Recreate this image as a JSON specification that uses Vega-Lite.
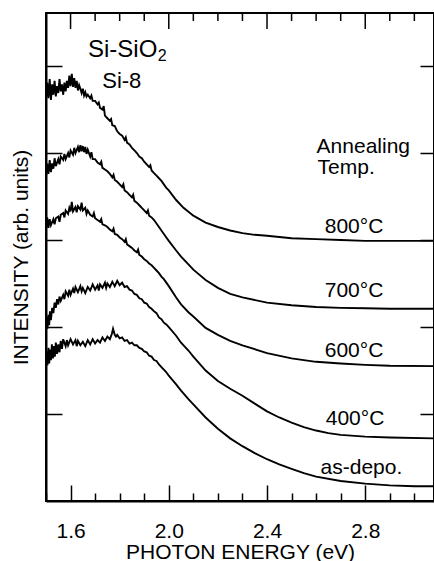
{
  "$schema": "https://vega.github.io/schema/vega-lite/v6.json",
  "width": 388,
  "height": 488,
  "autosize": "none",
  "padding": {"left": 46, "top": 13, "right": 0, "bottom": 60},
  "background": "white",
  "config": {"view": {"stroke": "black", "strokeWidth": 2}, "font": "Liberation Sans"},
  "datasets": {
    "majorTicks": [{"e": 1.6}, {"e": 2.0}, {"e": 2.4}, {"e": 2.8}],
    "minorTicks": [{"e": 1.5}, {"e": 1.7}, {"e": 1.8}, {"e": 1.9}, {"e": 2.1}, {"e": 2.2}, {"e": 2.3}, {"e": 2.5}, {"e": 2.6}, {"e": 2.7}, {"e": 2.9}, {"e": 3.0}],
    "frameTop": [{"e": 1.5, "i": 5.61}, {"e": 3.08, "i": 5.61}],
    "curves": [
        {"s":"800","e":1.500,"i":4.61},{"s":"800","e":1.505,"i":4.81},{"s":"800","e":1.510,"i":4.63},{"s":"800","e":1.515,"i":4.85},{"s":"800","e":1.520,"i":4.61},{"s":"800","e":1.525,"i":4.79},{"s":"800","e":1.530,"i":4.67},{"s":"800","e":1.535,"i":4.83},{"s":"800","e":1.540,"i":4.65},{"s":"800","e":1.545,"i":4.77},{"s":"800","e":1.550,"i":4.69},{"s":"800","e":1.555,"i":4.85},{"s":"800","e":1.560,"i":4.71},{"s":"800","e":1.565,"i":4.79},{"s":"800","e":1.570,"i":4.67},{"s":"800","e":1.575,"i":4.81},{"s":"800","e":1.580,"i":4.71},{"s":"800","e":1.585,"i":4.83},{"s":"800","e":1.590,"i":4.75},{"s":"800","e":1.595,"i":4.89},{"s":"800","e":1.600,"i":4.77},{"s":"800","e":1.605,"i":4.91},{"s":"800","e":1.610,"i":4.76},{"s":"800","e":1.615,"i":4.86},{"s":"800","e":1.620,"i":4.75},{"s":"800","e":1.625,"i":4.83},{"s":"800","e":1.630,"i":4.72},{"s":"800","e":1.635,"i":4.78},{"s":"800","e":1.640,"i":4.74},{"s":"800","e":1.645,"i":4.69},{"s":"800","e":1.650,"i":4.74},{"s":"800","e":1.655,"i":4.66},{"s":"800","e":1.660,"i":4.70},{"s":"800","e":1.665,"i":4.65},{"s":"800","e":1.670,"i":4.67},{"s":"800","e":1.680,"i":4.63},{"s":"800","e":1.685,"i":4.66},{"s":"800","e":1.690,"i":4.60},{"s":"800","e":1.700,"i":4.60},{"s":"800","e":1.710,"i":4.56},{"s":"800","e":1.715,"i":4.58},{"s":"800","e":1.720,"i":4.52},{"s":"800","e":1.730,"i":4.50},{"s":"800","e":1.735,"i":4.54},{"s":"800","e":1.740,"i":4.43},{"s":"800","e":1.750,"i":4.40},{"s":"800","e":1.760,"i":4.37},{"s":"800","e":1.765,"i":4.39},{"s":"800","e":1.770,"i":4.32},{"s":"800","e":1.780,"i":4.31},{"s":"800","e":1.790,"i":4.25},{"s":"800","e":1.800,"i":4.22},{"s":"800","e":1.810,"i":4.20},{"s":"800","e":1.820,"i":4.15},{"s":"800","e":1.825,"i":4.18},{"s":"800","e":1.830,"i":4.12},{"s":"800","e":1.840,"i":4.10},{"s":"800","e":1.850,"i":4.06},{"s":"800","e":1.860,"i":4.03},{"s":"800","e":1.870,"i":4.00},{"s":"800","e":1.880,"i":3.96},{"s":"800","e":1.890,"i":3.94},{"s":"800","e":1.900,"i":3.90},{"s":"800","e":1.910,"i":3.87},{"s":"800","e":1.920,"i":3.84},{"s":"800","e":1.925,"i":3.86},{"s":"800","e":1.930,"i":3.80},{"s":"800","e":1.940,"i":3.77},{"s":"800","e":1.950,"i":3.74},{"s":"800","e":1.960,"i":3.71},{"s":"800","e":1.970,"i":3.68},{"s":"800","e":1.980,"i":3.64},{"s":"800","e":1.990,"i":3.60},{"s":"800","e":2.000,"i":3.57},{"s":"800","e":2.03,"i":3.46},{"s":"800","e":2.06,"i":3.37},{"s":"800","e":2.10,"i":3.28},{"s":"800","e":2.15,"i":3.20},{"s":"800","e":2.20,"i":3.15},{"s":"800","e":2.25,"i":3.11},{"s":"800","e":2.30,"i":3.08},{"s":"800","e":2.35,"i":3.06},{"s":"800","e":2.40,"i":3.05},{"s":"800","e":2.50,"i":3.02},{"s":"800","e":2.60,"i":3.01},{"s":"800","e":2.70,"i":3.00},{"s":"800","e":2.80,"i":2.99},{"s":"800","e":2.90,"i":2.99},{"s":"800","e":3.00,"i":2.99},{"s":"800","e":3.08,"i":2.99},

        {"s":"700","e":1.500,"i":3.72},{"s":"700","e":1.505,"i":3.88},{"s":"700","e":1.510,"i":3.76},{"s":"700","e":1.515,"i":3.92},{"s":"700","e":1.520,"i":3.78},{"s":"700","e":1.525,"i":3.88},{"s":"700","e":1.530,"i":3.82},{"s":"700","e":1.535,"i":3.94},{"s":"700","e":1.540,"i":3.85},{"s":"700","e":1.550,"i":3.93},{"s":"700","e":1.555,"i":3.87},{"s":"700","e":1.560,"i":3.96},{"s":"700","e":1.570,"i":3.92},{"s":"700","e":1.575,"i":3.99},{"s":"700","e":1.580,"i":3.93},{"s":"700","e":1.590,"i":4.00},{"s":"700","e":1.595,"i":3.95},{"s":"700","e":1.600,"i":4.03},{"s":"700","e":1.610,"i":3.98},{"s":"700","e":1.615,"i":4.06},{"s":"700","e":1.620,"i":4.00},{"s":"700","e":1.630,"i":4.07},{"s":"700","e":1.635,"i":4.01},{"s":"700","e":1.640,"i":4.09},{"s":"700","e":1.645,"i":4.02},{"s":"700","e":1.650,"i":4.08},{"s":"700","e":1.655,"i":4.01},{"s":"700","e":1.660,"i":4.07},{"s":"700","e":1.665,"i":3.99},{"s":"700","e":1.670,"i":4.04},{"s":"700","e":1.680,"i":3.96},{"s":"700","e":1.685,"i":4.01},{"s":"700","e":1.690,"i":3.93},{"s":"700","e":1.700,"i":3.93},{"s":"700","e":1.710,"i":3.89},{"s":"700","e":1.720,"i":3.87},{"s":"700","e":1.725,"i":3.90},{"s":"700","e":1.730,"i":3.83},{"s":"700","e":1.740,"i":3.81},{"s":"700","e":1.750,"i":3.79},{"s":"700","e":1.760,"i":3.76},{"s":"700","e":1.770,"i":3.72},{"s":"700","e":1.775,"i":3.75},{"s":"700","e":1.780,"i":3.69},{"s":"700","e":1.790,"i":3.67},{"s":"700","e":1.800,"i":3.64},{"s":"700","e":1.810,"i":3.61},{"s":"700","e":1.815,"i":3.64},{"s":"700","e":1.820,"i":3.57},{"s":"700","e":1.830,"i":3.55},{"s":"700","e":1.840,"i":3.52},{"s":"700","e":1.850,"i":3.49},{"s":"700","e":1.855,"i":3.52},{"s":"700","e":1.860,"i":3.45},{"s":"700","e":1.870,"i":3.43},{"s":"700","e":1.880,"i":3.40},{"s":"700","e":1.890,"i":3.37},{"s":"700","e":1.900,"i":3.34},{"s":"700","e":1.910,"i":3.31},{"s":"700","e":1.915,"i":3.34},{"s":"700","e":1.920,"i":3.28},{"s":"700","e":1.930,"i":3.26},{"s":"700","e":1.940,"i":3.23},{"s":"700","e":1.950,"i":3.19},{"s":"700","e":1.960,"i":3.15},{"s":"700","e":1.970,"i":3.11},{"s":"700","e":1.980,"i":3.07},{"s":"700","e":1.990,"i":3.03},{"s":"700","e":2.000,"i":2.99},{"s":"700","e":2.03,"i":2.88},{"s":"700","e":2.05,"i":2.81},{"s":"700","e":2.08,"i":2.72},{"s":"700","e":2.10,"i":2.66},{"s":"700","e":2.15,"i":2.54},{"s":"700","e":2.20,"i":2.45},{"s":"700","e":2.25,"i":2.38},{"s":"700","e":2.30,"i":2.34},{"s":"700","e":2.40,"i":2.28},{"s":"700","e":2.50,"i":2.25},{"s":"700","e":2.60,"i":2.23},{"s":"700","e":2.70,"i":2.22},{"s":"700","e":2.80,"i":2.215},{"s":"700","e":2.90,"i":2.21},{"s":"700","e":3.08,"i":2.21},

        {"s":"600","e":1.500,"i":3.12},{"s":"600","e":1.505,"i":3.26},{"s":"600","e":1.510,"i":3.14},{"s":"600","e":1.515,"i":3.24},{"s":"600","e":1.520,"i":3.17},{"s":"600","e":1.530,"i":3.24},{"s":"600","e":1.535,"i":3.18},{"s":"600","e":1.540,"i":3.25},{"s":"600","e":1.550,"i":3.27},{"s":"600","e":1.555,"i":3.21},{"s":"600","e":1.560,"i":3.29},{"s":"600","e":1.570,"i":3.31},{"s":"600","e":1.575,"i":3.26},{"s":"600","e":1.580,"i":3.34},{"s":"600","e":1.590,"i":3.30},{"s":"600","e":1.595,"i":3.37},{"s":"600","e":1.600,"i":3.33},{"s":"600","e":1.605,"i":3.44},{"s":"600","e":1.610,"i":3.33},{"s":"600","e":1.620,"i":3.38},{"s":"600","e":1.625,"i":3.32},{"s":"600","e":1.630,"i":3.39},{"s":"600","e":1.640,"i":3.35},{"s":"600","e":1.645,"i":3.43},{"s":"600","e":1.650,"i":3.34},{"s":"600","e":1.660,"i":3.37},{"s":"600","e":1.665,"i":3.30},{"s":"600","e":1.670,"i":3.34},{"s":"600","e":1.680,"i":3.29},{"s":"600","e":1.690,"i":3.27},{"s":"600","e":1.695,"i":3.31},{"s":"600","e":1.700,"i":3.25},{"s":"600","e":1.710,"i":3.23},{"s":"600","e":1.720,"i":3.21},{"s":"600","e":1.725,"i":3.24},{"s":"600","e":1.730,"i":3.18},{"s":"600","e":1.740,"i":3.17},{"s":"600","e":1.750,"i":3.15},{"s":"600","e":1.760,"i":3.12},{"s":"600","e":1.770,"i":3.10},{"s":"600","e":1.775,"i":3.13},{"s":"600","e":1.780,"i":3.07},{"s":"600","e":1.790,"i":3.06},{"s":"600","e":1.800,"i":3.03},{"s":"600","e":1.810,"i":3.01},{"s":"600","e":1.820,"i":2.98},{"s":"600","e":1.825,"i":3.01},{"s":"600","e":1.830,"i":2.95},{"s":"600","e":1.840,"i":2.93},{"s":"600","e":1.850,"i":2.91},{"s":"600","e":1.860,"i":2.88},{"s":"600","e":1.870,"i":2.86},{"s":"600","e":1.875,"i":2.89},{"s":"600","e":1.880,"i":2.83},{"s":"600","e":1.890,"i":2.81},{"s":"600","e":1.900,"i":2.78},{"s":"600","e":1.910,"i":2.76},{"s":"600","e":1.920,"i":2.73},{"s":"600","e":1.930,"i":2.71},{"s":"600","e":1.940,"i":2.68},{"s":"600","e":1.950,"i":2.65},{"s":"600","e":1.960,"i":2.62},{"s":"600","e":1.970,"i":2.58},{"s":"600","e":1.980,"i":2.55},{"s":"600","e":1.990,"i":2.51},{"s":"600","e":2.000,"i":2.47},{"s":"600","e":2.03,"i":2.34},{"s":"600","e":2.05,"i":2.26},{"s":"600","e":2.08,"i":2.17},{"s":"600","e":2.10,"i":2.12},{"s":"600","e":2.15,"i":1.99},{"s":"600","e":2.20,"i":1.91},{"s":"600","e":2.25,"i":1.84},{"s":"600","e":2.30,"i":1.79},{"s":"600","e":2.40,"i":1.70},{"s":"600","e":2.50,"i":1.64},{"s":"600","e":2.60,"i":1.60},{"s":"600","e":2.70,"i":1.58},{"s":"600","e":2.80,"i":1.565},{"s":"600","e":2.90,"i":1.555},{"s":"600","e":3.08,"i":1.55},

        {"s":"400","e":1.500,"i":1.94},{"s":"400","e":1.503,"i":2.12},{"s":"400","e":1.506,"i":1.98},{"s":"400","e":1.510,"i":2.14},{"s":"400","e":1.513,"i":2.02},{"s":"400","e":1.516,"i":2.18},{"s":"400","e":1.520,"i":2.08},{"s":"400","e":1.525,"i":2.22},{"s":"400","e":1.530,"i":2.16},{"s":"400","e":1.535,"i":2.28},{"s":"400","e":1.540,"i":2.22},{"s":"400","e":1.545,"i":2.32},{"s":"400","e":1.550,"i":2.26},{"s":"400","e":1.555,"i":2.35},{"s":"400","e":1.560,"i":2.30},{"s":"400","e":1.570,"i":2.37},{"s":"400","e":1.575,"i":2.32},{"s":"400","e":1.580,"i":2.41},{"s":"400","e":1.590,"i":2.36},{"s":"400","e":1.595,"i":2.43},{"s":"400","e":1.600,"i":2.37},{"s":"400","e":1.610,"i":2.44},{"s":"400","e":1.615,"i":2.39},{"s":"400","e":1.620,"i":2.46},{"s":"400","e":1.630,"i":2.40},{"s":"400","e":1.640,"i":2.47},{"s":"400","e":1.645,"i":2.41},{"s":"400","e":1.650,"i":2.45},{"s":"400","e":1.660,"i":2.39},{"s":"400","e":1.670,"i":2.46},{"s":"400","e":1.680,"i":2.42},{"s":"400","e":1.690,"i":2.49},{"s":"400","e":1.700,"i":2.43},{"s":"400","e":1.710,"i":2.48},{"s":"400","e":1.715,"i":2.42},{"s":"400","e":1.720,"i":2.49},{"s":"400","e":1.730,"i":2.45},{"s":"400","e":1.740,"i":2.51},{"s":"400","e":1.745,"i":2.45},{"s":"400","e":1.750,"i":2.50},{"s":"400","e":1.760,"i":2.46},{"s":"400","e":1.770,"i":2.52},{"s":"400","e":1.780,"i":2.47},{"s":"400","e":1.790,"i":2.53},{"s":"400","e":1.800,"i":2.48},{"s":"400","e":1.810,"i":2.51},{"s":"400","e":1.820,"i":2.46},{"s":"400","e":1.830,"i":2.47},{"s":"400","e":1.840,"i":2.43},{"s":"400","e":1.850,"i":2.42},{"s":"400","e":1.860,"i":2.38},{"s":"400","e":1.870,"i":2.37},{"s":"400","e":1.880,"i":2.33},{"s":"400","e":1.890,"i":2.32},{"s":"400","e":1.900,"i":2.28},{"s":"400","e":1.910,"i":2.27},{"s":"400","e":1.920,"i":2.23},{"s":"400","e":1.930,"i":2.21},{"s":"400","e":1.940,"i":2.18},{"s":"400","e":1.950,"i":2.16},{"s":"400","e":1.960,"i":2.11},{"s":"400","e":1.970,"i":2.09},{"s":"400","e":1.980,"i":2.05},{"s":"400","e":1.990,"i":2.03},{"s":"400","e":2.000,"i":2.00},{"s":"400","e":2.03,"i":1.90},{"s":"400","e":2.05,"i":1.82},{"s":"400","e":2.08,"i":1.73},{"s":"400","e":2.10,"i":1.66},{"s":"400","e":2.15,"i":1.50},{"s":"400","e":2.20,"i":1.38},{"s":"400","e":2.25,"i":1.29},{"s":"400","e":2.30,"i":1.21},{"s":"400","e":2.35,"i":1.12},{"s":"400","e":2.40,"i":1.03},{"s":"400","e":2.45,"i":0.96},{"s":"400","e":2.50,"i":0.90},{"s":"400","e":2.55,"i":0.85},{"s":"400","e":2.60,"i":0.81},{"s":"400","e":2.65,"i":0.78},{"s":"400","e":2.70,"i":0.76},{"s":"400","e":2.80,"i":0.74},{"s":"400","e":2.90,"i":0.73},{"s":"400","e":3.08,"i":0.72},

        {"s":"as","e":1.500,"i":1.53},{"s":"as","e":1.503,"i":1.72},{"s":"as","e":1.506,"i":1.56},{"s":"as","e":1.510,"i":1.76},{"s":"as","e":1.513,"i":1.58},{"s":"as","e":1.516,"i":1.74},{"s":"as","e":1.520,"i":1.62},{"s":"as","e":1.524,"i":1.80},{"s":"as","e":1.528,"i":1.64},{"s":"as","e":1.532,"i":1.78},{"s":"as","e":1.536,"i":1.66},{"s":"as","e":1.540,"i":1.82},{"s":"as","e":1.545,"i":1.69},{"s":"as","e":1.550,"i":1.80},{"s":"as","e":1.555,"i":1.71},{"s":"as","e":1.560,"i":1.84},{"s":"as","e":1.565,"i":1.75},{"s":"as","e":1.570,"i":1.86},{"s":"as","e":1.580,"i":1.78},{"s":"as","e":1.585,"i":1.85},{"s":"as","e":1.590,"i":1.79},{"s":"as","e":1.600,"i":1.86},{"s":"as","e":1.610,"i":1.80},{"s":"as","e":1.620,"i":1.85},{"s":"as","e":1.625,"i":1.78},{"s":"as","e":1.630,"i":1.84},{"s":"as","e":1.640,"i":1.79},{"s":"as","e":1.650,"i":1.83},{"s":"as","e":1.660,"i":1.78},{"s":"as","e":1.670,"i":1.85},{"s":"as","e":1.680,"i":1.80},{"s":"as","e":1.690,"i":1.86},{"s":"as","e":1.700,"i":1.81},{"s":"as","e":1.710,"i":1.85},{"s":"as","e":1.720,"i":1.82},{"s":"as","e":1.730,"i":1.88},{"s":"as","e":1.740,"i":1.84},{"s":"as","e":1.750,"i":1.89},{"s":"as","e":1.760,"i":1.86},{"s":"as","e":1.768,"i":1.92},{"s":"as","e":1.773,"i":1.98},{"s":"as","e":1.780,"i":1.91},{"s":"as","e":1.785,"i":1.89},{"s":"as","e":1.790,"i":1.91},{"s":"as","e":1.800,"i":1.87},{"s":"as","e":1.810,"i":1.88},{"s":"as","e":1.820,"i":1.84},{"s":"as","e":1.830,"i":1.85},{"s":"as","e":1.840,"i":1.81},{"s":"as","e":1.850,"i":1.82},{"s":"as","e":1.860,"i":1.79},{"s":"as","e":1.870,"i":1.79},{"s":"as","e":1.880,"i":1.76},{"s":"as","e":1.890,"i":1.75},{"s":"as","e":1.900,"i":1.72},{"s":"as","e":1.910,"i":1.71},{"s":"as","e":1.920,"i":1.67},{"s":"as","e":1.930,"i":1.66},{"s":"as","e":1.940,"i":1.62},{"s":"as","e":1.950,"i":1.61},{"s":"as","e":1.960,"i":1.57},{"s":"as","e":1.970,"i":1.54},{"s":"as","e":1.980,"i":1.51},{"s":"as","e":1.990,"i":1.48},{"s":"as","e":2.000,"i":1.44},{"s":"as","e":2.03,"i":1.34},{"s":"as","e":2.05,"i":1.27},{"s":"as","e":2.08,"i":1.17},{"s":"as","e":2.10,"i":1.11},{"s":"as","e":2.15,"i":0.96},{"s":"as","e":2.20,"i":0.83},{"s":"as","e":2.25,"i":0.72},{"s":"as","e":2.30,"i":0.63},{"s":"as","e":2.35,"i":0.55},{"s":"as","e":2.40,"i":0.48},{"s":"as","e":2.45,"i":0.42},{"s":"as","e":2.50,"i":0.37},{"s":"as","e":2.55,"i":0.32},{"s":"as","e":2.60,"i":0.28},{"s":"as","e":2.70,"i":0.23},{"s":"as","e":2.80,"i":0.20},{"s":"as","e":2.90,"i":0.18},{"s":"as","e":3.00,"i":0.17},{"s":"as","e":3.08,"i":0.17}
    ]
  },
  "resolve": {"axis": {"x": "independent", "y": "independent"}},
  "layer": [
    {
      "data": {"name": "curves"},
      "mark": {"type": "line", "color": "black", "strokeWidth": 1.9, "clip": true},
      "encoding": {
        "x": {"field": "e", "type": "quantitative", "scale": {"domain": [1.5, 3.08], "nice": false, "zero": false},
          "axis": {"orient": "bottom", "values": [1.5,1.6,1.7,1.8,1.9,2.0,2.1,2.2,2.3,2.4,2.5,2.6,2.7,2.8,2.9,3.0],
            "labelExpr": "round(datum.value*10)%4==0 ? format(datum.value, '.1f') : ''",
            "tickSize": {"condition": {"test": "round(datum.value*10)%4==0", "value": -16}, "value": -8},
            "tickWidth": 1.5, "tickColor": "black", "domainColor": "black", "domainWidth": 2,
            "labelFontSize": 21, "labelColor": "black", "labelFont": "Liberation Sans", "labelPadding": 35, "labelOverlap": false, "labelFlush": false,
            "grid": false, "title": "PHOTON ENERGY (eV)", "titleFontSize": 21, "titleFontWeight": "normal", "titleFont": "Liberation Sans", "titleColor": "black", "titleBaseline": "alphabetic", "titlePadding": 9}},
        "y": {"field": "i", "type": "quantitative", "scale": {"domain": [0, 5.61], "nice": false, "zero": false},
          "axis": {"orient": "left", "values": [1,2,3,4,5], "labels": false, "tickSize": -16, "tickWidth": 1.5, "tickColor": "black",
            "domainColor": "black", "domainWidth": 2, "grid": false,
            "title": "INTENSITY (arb. units)", "titleFontSize": 21, "titleFontWeight": "normal", "titleFont": "Liberation Sans", "titleColor": "black", "titleBaseline": "alphabetic", "titlePadding": 18}},
        "detail": {"field": "s", "type": "nominal"}
      }
    },
    {
      "data": {"name": "curves"},
      "mark": {"type": "line", "strokeOpacity": 0, "clip": true},
      "encoding": {
        "x": {"field": "e", "type": "quantitative", "axis": null},
        "y": {"field": "i", "type": "quantitative", "scale": {"domain": [0, 5.61], "nice": false, "zero": false},
          "axis": {"orient": "right", "values": [1,2,3,4,5], "labels": false, "tickSize": -14, "tickWidth": 1.5, "tickColor": "black",
            "domain": false, "grid": false, "title": ""}},
        "detail": {"field": "s", "type": "nominal"}
      }
    },
    {
      "data": {"name": "frameTop"},
      "mark": {"type": "line", "color": "black", "strokeWidth": 2, "clip": false},
      "encoding": {
        "x": {"field": "e", "type": "quantitative", "axis": null},
        "y": {"field": "i", "type": "quantitative", "axis": null}
      }
    },
    {
      "data": {"name": "majorTicks"},
      "mark": {"type": "tick", "orient": "vertical", "size": 16, "thickness": 1.5, "yOffset": 8, "color": "black", "opacity": 1},
      "encoding": {
        "x": {"field": "e", "type": "quantitative", "axis": null},
        "y": {"datum": 5.61, "type": "quantitative", "axis": null}
      }
    },
    {
      "data": {"name": "minorTicks"},
      "mark": {"type": "tick", "orient": "vertical", "size": 8, "thickness": 1.5, "yOffset": 4, "color": "black", "opacity": 1},
      "encoding": {
        "x": {"field": "e", "type": "quantitative", "axis": null},
        "y": {"datum": 5.61, "type": "quantitative", "axis": null}
      }
    },
    {
      "data": {"values": [
        {"t": "Annealing", "e": 2.602, "i": 4.0},
        {"t": "Temp.", "e": 2.606, "i": 3.76},
        {"t": "800°C", "e": 2.635, "i": 3.08},
        {"t": "700°C", "e": 2.635, "i": 2.345},
        {"t": "600°C", "e": 2.635, "i": 1.655},
        {"t": "400°C", "e": 2.639, "i": 0.874},
        {"t": "as-depo.", "e": 2.618, "i": 0.31}
      ]},
      "mark": {"type": "text", "align": "left", "baseline": "alphabetic", "fontSize": 21, "font": "Liberation Sans", "color": "black"},
      "encoding": {
        "x": {"field": "e", "type": "quantitative", "axis": null},
        "y": {"field": "i", "type": "quantitative", "axis": null},
        "text": {"field": "t"}
      }
    },
    {
      "data": {"values": [{"t": "Si-SiO", "e": 1.671, "i": 5.10}]},
      "mark": {"type": "text", "align": "left", "baseline": "alphabetic", "fontSize": 24, "font": "Liberation Sans", "color": "black"},
      "encoding": {
        "x": {"field": "e", "type": "quantitative", "axis": null},
        "y": {"field": "i", "type": "quantitative", "axis": null},
        "text": {"field": "t"}
      }
    },
    {
      "data": {"values": [{"t": "2", "e": 1.955, "i": 5.06}]},
      "mark": {"type": "text", "align": "left", "baseline": "alphabetic", "fontSize": 16, "font": "Liberation Sans", "color": "black"},
      "encoding": {
        "x": {"field": "e", "type": "quantitative", "axis": null},
        "y": {"field": "i", "type": "quantitative", "axis": null},
        "text": {"field": "t"}
      }
    },
    {
      "data": {"values": [{"t": "Si-8", "e": 1.729, "i": 4.75}]},
      "mark": {"type": "text", "align": "left", "baseline": "alphabetic", "fontSize": 22, "font": "Liberation Sans", "color": "black"},
      "encoding": {
        "x": {"field": "e", "type": "quantitative", "axis": null},
        "y": {"field": "i", "type": "quantitative", "axis": null},
        "text": {"field": "t"}
      }
    }
  ]
}
